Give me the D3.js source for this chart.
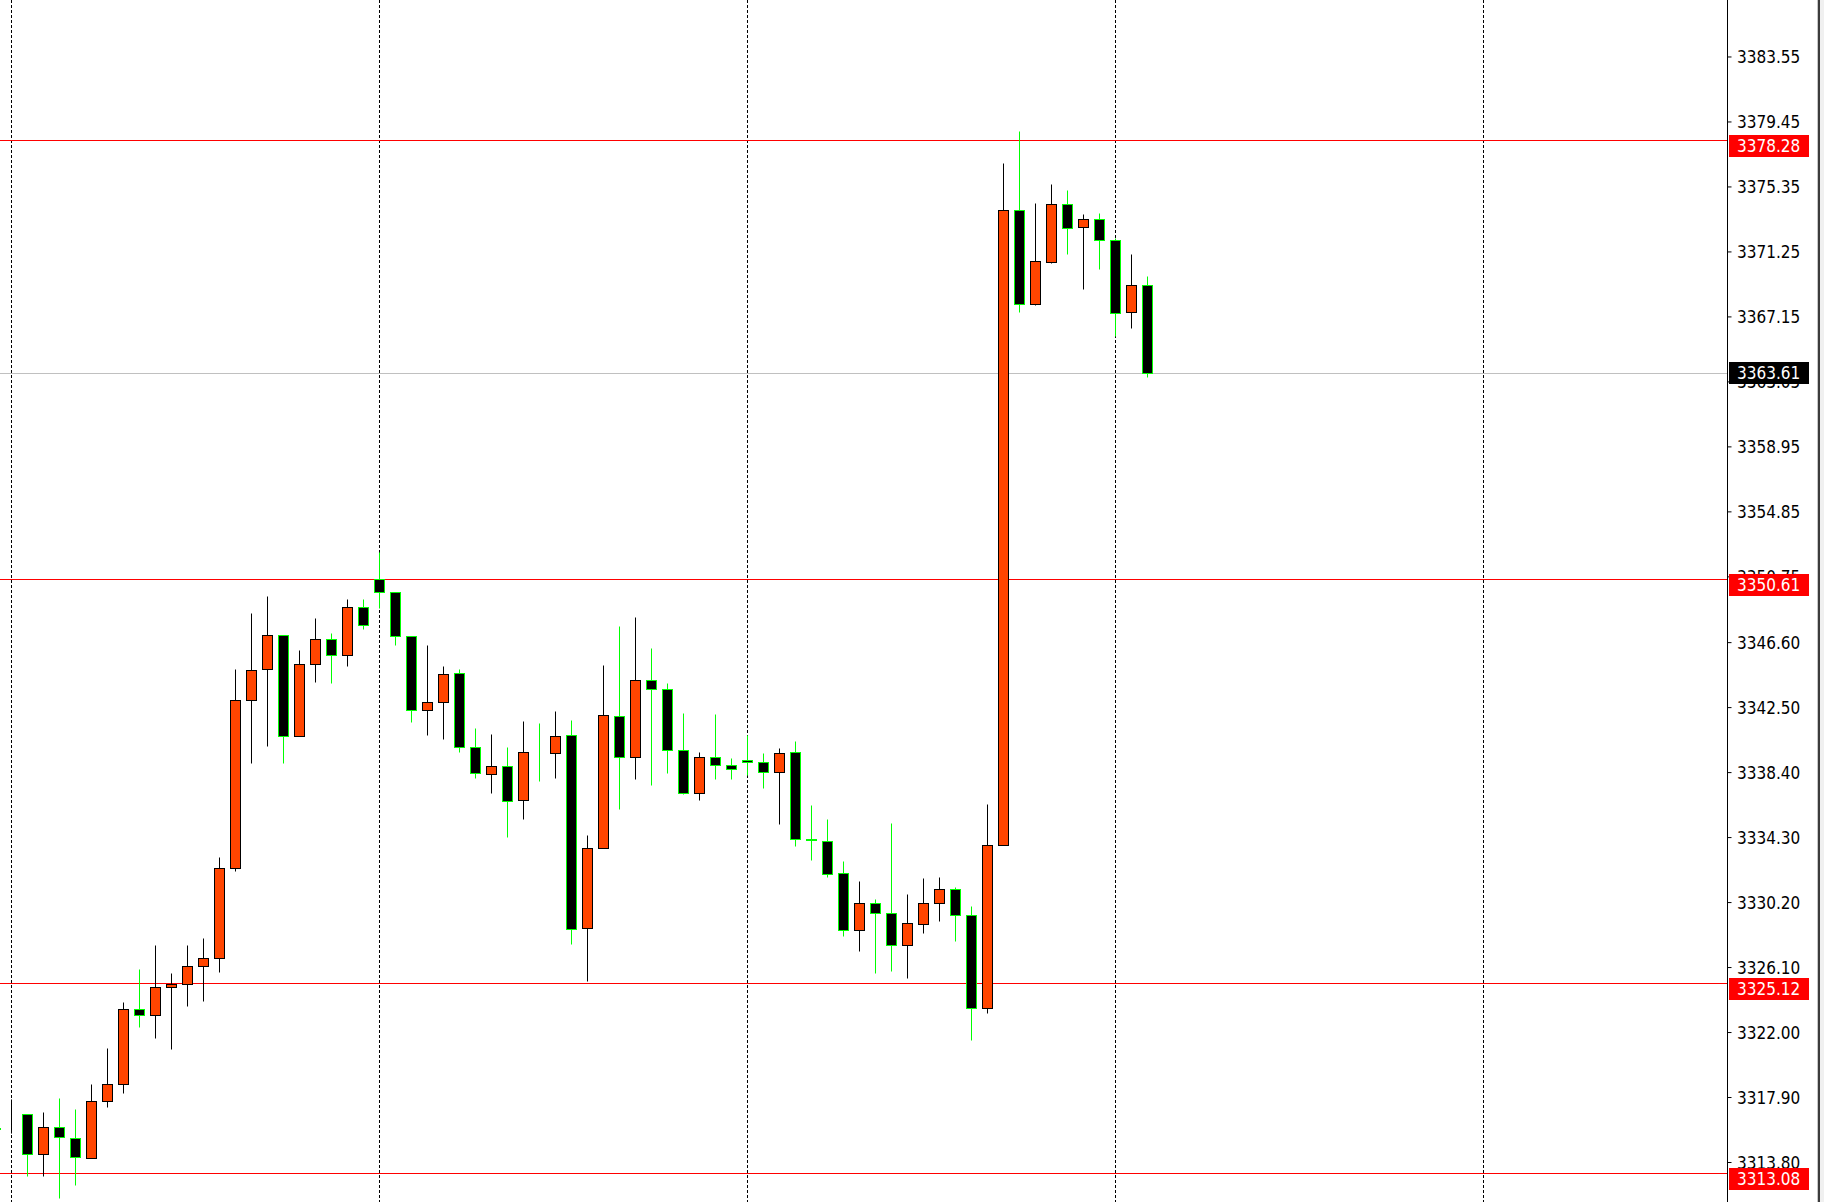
<!DOCTYPE html>
<html>
<head>
<meta charset="utf-8">
<script src="https://cdn.jsdelivr.net/npm/d3@7"></script>
<style>
  html, body { margin: 0; padding: 0; background: #ffffff; }
  svg { display: block; }
</style>
</head>
<body>
<script>
// ---- DATA ----
// First entry is a partially visible candle at the left edge.
const opens  = [3315.93,3316.82,3316.82,3314.30,3316.00,3315.31,3314.04,3317.64,3318.72,3323.46,3323.08,3324.85,3325.06,3326.17,3326.68,3332.36,3342.98,3344.93,3347.02,3340.70,3345.19,3346.77,3345.76,3348.79,3350.56,3349.74,3346.96,3342.34,3342.85,3344.68,3340.00,3338.30,3338.80,3336.65,3339.69,3339.62,3340.76,3328.57,3333.62,3341.96,3339.37,3344.24,3343.67,3339.82,3337.10,3339.37,3338.87,3339.18,3339.06,3338.43,3339.69,3334.17,3334.07,3332.04,3328.44,3330.15,3329.52,3327.50,3328.82,3330.15,3331.03,3329.39,3323.52,3333.81,3373.86,3367.92,3370.58,3374.24,3372.79,3373.29,3371.97,3367.42,3369.12];
const highs  = [3316.30,3317.77,3316.82,3316.97,3317.86,3317.16,3318.74,3321.01,3323.92,3326.00,3327.52,3325.75,3327.46,3327.96,3333.02,3344.89,3348.43,3349.50,3347.02,3346.09,3348.11,3347.17,3349.29,3349.29,3352.30,3349.74,3346.96,3346.40,3345.08,3344.89,3341.16,3340.78,3339.96,3341.60,3341.48,3342.24,3341.67,3334.46,3345.14,3347.60,3348.18,3346.22,3344.01,3342.11,3339.65,3342.05,3339.27,3340.72,3339.58,3339.90,3340.34,3336.30,3335.41,3332.76,3331.50,3330.42,3335.16,3330.74,3331.69,3331.81,3331.12,3329.98,3336.36,3376.85,3378.87,3374.33,3375.53,3375.15,3373.63,3373.69,3372.09,3371.08,3369.71];
const lows   = [3315.50,3315.62,3312.89,3312.89,3311.50,3312.38,3314.04,3317.24,3318.13,3322.30,3321.60,3320.91,3323.63,3323.94,3325.77,3332.15,3338.98,3340.05,3338.98,3340.70,3344.09,3344.03,3345.10,3347.44,3348.77,3346.43,3341.57,3340.74,3340.49,3339.64,3338.02,3337.08,3334.30,3335.43,3337.83,3338.02,3327.54,3325.20,3333.62,3336.06,3337.96,3337.58,3338.34,3337.04,3336.64,3337.96,3337.96,3338.24,3337.40,3335.12,3333.73,3332.85,3331.77,3328.04,3327.14,3325.71,3325.83,3325.39,3328.23,3328.99,3327.73,3321.47,3323.18,3333.81,3367.42,3367.84,3370.49,3371.06,3368.85,3370.11,3365.94,3366.45,3363.35];
const closes = [3315.90,3316.83,3314.30,3316.00,3315.37,3314.11,3317.64,3318.72,3323.46,3323.08,3324.85,3325.06,3326.17,3326.68,3332.36,3342.98,3344.87,3347.02,3340.70,3345.19,3346.77,3345.76,3348.79,3347.65,3349.74,3346.96,3342.34,3342.85,3344.61,3340.00,3338.36,3338.80,3336.59,3339.69,3339.64,3340.70,3328.51,3333.62,3342.02,3339.37,3344.24,3343.67,3339.82,3337.10,3339.37,3338.87,3338.62,3339.06,3338.43,3339.63,3334.19,3334.11,3331.98,3328.44,3330.15,3329.52,3327.50,3328.89,3330.15,3331.03,3329.39,3323.52,3333.81,3373.86,3367.92,3370.64,3374.24,3372.72,3373.29,3371.97,3367.36,3369.12,3363.61];

const tickValues = [3383.55,3379.45,3375.35,3371.25,3367.15,3363.05,3358.95,3354.85,3350.75,3346.60,3342.50,3338.40,3334.30,3330.20,3326.10,3322.00,3317.90,3313.80];
const redLevels = [3378.28, 3350.61, 3325.12, 3313.08];
const bidLevel = 3363.61;
const gridIndices = [1, 24, 47, 70, 93];   // vertical dashed separators (candle index)

// ---- LAYOUT ----
const W = 1824, H = 1202;
const plotRight = 1727;
const bullFill = "#FF4500", bullLine = "#000000";
const bearFill = "#000000", bearLine = "#00FF00";

const x = d3.scaleLinear().domain([0, 110]).range([-4.5, -4.5 + 16 * 110]);
const y = d3.scaleLinear().domain([3311.277, 3387.113]).range([H, 0]);
const py = v => Math.round(y(v)) + 0.5;

const svg = d3.select("body").append("svg").attr("width", W).attr("height", H);
svg.append("rect").attr("width", W).attr("height", H).attr("fill", "#ffffff");

svg.append("defs").append("clipPath").attr("id", "plot")
  .append("rect").attr("x", 0).attr("y", 0).attr("width", plotRight).attr("height", H);

const plot = svg.append("g").attr("clip-path", "url(#plot)");

// vertical dashed grid
plot.selectAll("line.grid").data(gridIndices).enter().append("line")
  .attr("class", "grid")
  .attr("x1", d => x(d)).attr("x2", d => x(d))
  .attr("y1", 0).attr("y2", H)
  .attr("stroke", "#000").attr("stroke-width", 1).attr("stroke-dasharray", "3,2");

// horizontal level lines
plot.selectAll("line.red").data(redLevels).enter().append("line")
  .attr("x1", 0).attr("x2", plotRight)
  .attr("y1", d => Math.round(y(d)) + 0.5).attr("y2", d => Math.round(y(d)) + 0.5)
  .attr("stroke", "#FF0000").attr("stroke-width", 1);
plot.append("line")
  .attr("x1", 0).attr("x2", plotRight)
  .attr("y1", Math.round(y(bidLevel)) + 0.5).attr("y2", Math.round(y(bidLevel)) + 0.5)
  .attr("stroke", "#C0C0C0").attr("stroke-width", 1);

// candles
const candles = opens.map((o, i) => ({ i, o, h: highs[i], l: lows[i], c: closes[i] }));
const cg = plot.selectAll("g.c").data(candles).enter().append("g");
cg.append("line")
  .attr("x1", d => x(d.i)).attr("x2", d => x(d.i))
  .attr("y1", d => py(d.h)).attr("y2", d => py(d.l))
  .attr("stroke", d => d.c >= d.o ? bullLine : bearLine).attr("stroke-width", 1);
cg.append("rect")
  .attr("x", d => x(d.i) - 5)
  .attr("width", 10)
  .attr("y", d => py(Math.max(d.o, d.c)))
  .attr("height", d => Math.max(0, py(Math.min(d.o, d.c)) - py(Math.max(d.o, d.c))))
  .attr("fill", d => d.c >= d.o ? bullFill : bearFill)
  .attr("stroke", d => d.c >= d.o ? bullLine : bearLine).attr("stroke-width", 1);

// price axis
const fontFam = "'DejaVu Sans Condensed', 'DejaVu Sans', sans-serif";
const axis = d3.axisRight(y).tickValues(tickValues).tickSize(4).tickFormat(d3.format(".2f"));
const ag = svg.append("g").attr("transform", `translate(${plotRight + 0.5},0)`).call(axis);
ag.select(".domain").attr("d", `M0,0V${H}`).attr("stroke", "#000");
ag.selectAll(".tick line").attr("stroke", "#000");
ag.selectAll(".tick text")
  .attr("x", 9.5).attr("dy", "0.36em")
  .attr("fill", "#000")
  .style("font-family", fontFam).style("font-stretch", "condensed")
  .style("font-size", "17px");

// level labels
function priceBox(v, bg, top) {
  const yy = Math.round(y(v));
  svg.append("rect").attr("x", 1729).attr("y", yy + top).attr("width", 80).attr("height", 22).attr("fill", bg);
  svg.append("text").attr("x", 1737).attr("y", yy + top + 11).attr("dy", "0.36em")
    .attr("fill", "#fff")
    .style("font-family", fontFam).style("font-stretch", "condensed")
    .style("font-size", "17px").text(d3.format(".2f")(v));
}
redLevels.forEach(v => priceBox(v, "#FF0000", -5));
priceBox(bidLevel, "#000000", -11);

// right edge frame
svg.append("rect").attr("x", 1817).attr("y", 0).attr("width", 1).attr("height", H).attr("fill", "#C8C8C8");
svg.append("rect").attr("x", 1818).attr("y", 0).attr("width", 2).attr("height", H).attr("fill", "#3C3C3C");
svg.append("rect").attr("x", 1820).attr("y", 0).attr("width", 4).attr("height", H).attr("fill", "#F0F0F0");
</script>
</body>
</html>
